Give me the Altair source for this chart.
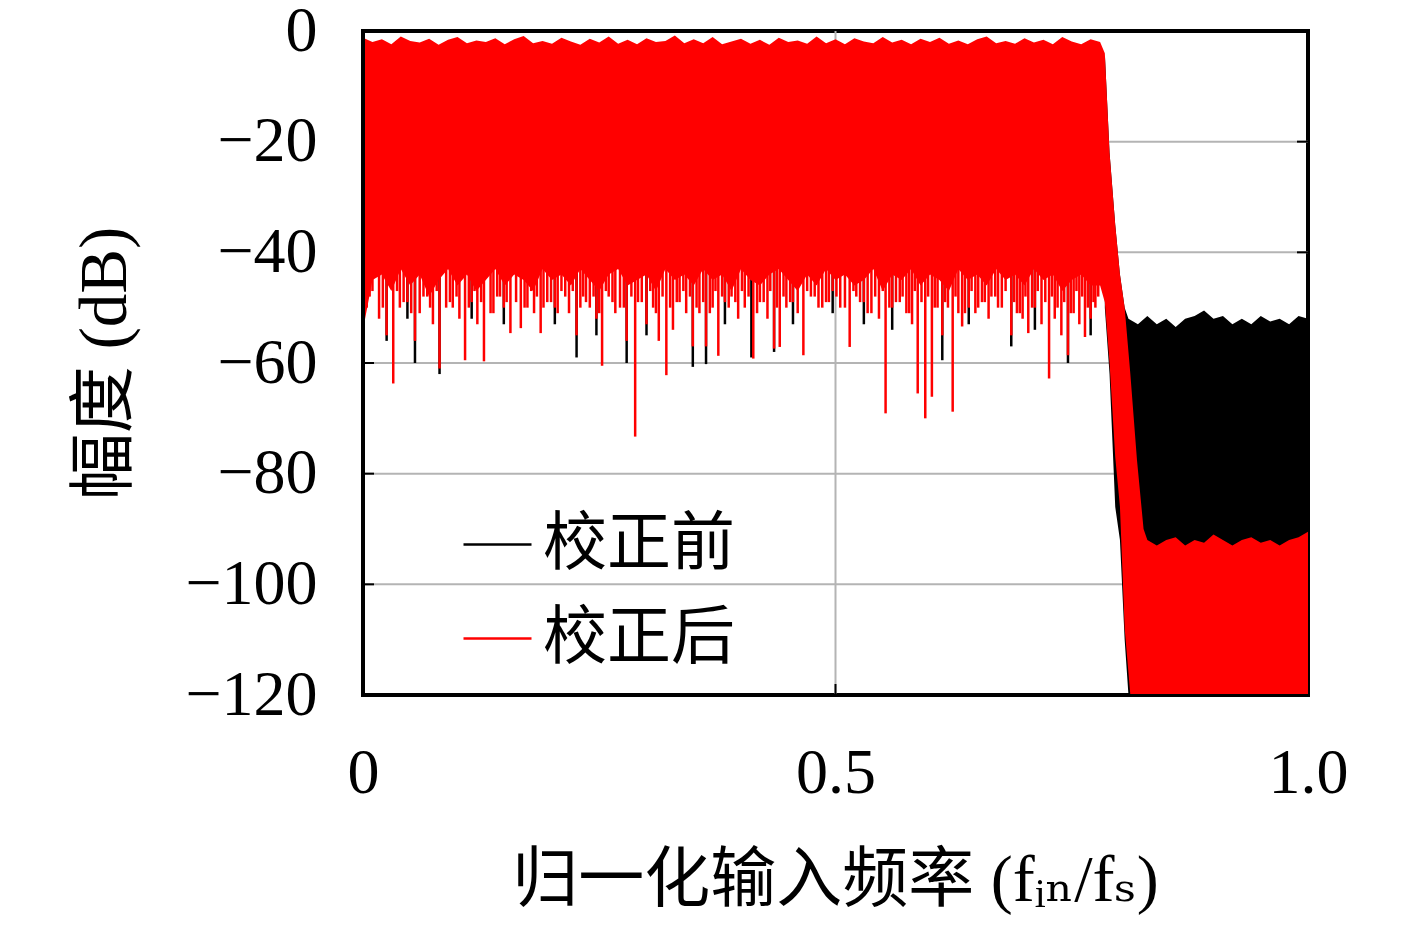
import altair as alt
import pandas as pd

# ---------------- data ----------------
# passband (0 .. 0.78): upper edge and solid lower edge of the noisy band (dB)
PASS_F = [0.00, 0.01, 0.02, 0.03, 0.04, 0.05, 0.06, 0.07, 0.08, 0.09,
          0.10, 0.11, 0.12, 0.13, 0.14, 0.15, 0.16, 0.17, 0.18, 0.19,
          0.20, 0.21, 0.22, 0.23, 0.24, 0.25, 0.26, 0.27, 0.28, 0.29,
          0.30, 0.31, 0.32, 0.33, 0.34, 0.35, 0.36, 0.37, 0.38, 0.39,
          0.40, 0.41, 0.42, 0.43, 0.44, 0.45, 0.46, 0.47, 0.48, 0.49,
          0.50, 0.51, 0.52, 0.53, 0.54, 0.55, 0.56, 0.57, 0.58, 0.59,
          0.60, 0.61, 0.62, 0.63, 0.64, 0.65, 0.66, 0.67, 0.68, 0.69,
          0.70, 0.71, 0.72, 0.73, 0.74, 0.75, 0.76, 0.77, 0.78]
PASS_TOP = [-1.2, -2.0, -1.5, -2.4, -1.0, -1.8, -2.1, -1.4, -2.5, -1.6,
            -1.1, -2.2, -1.7, -2.0, -1.3, -2.4, -1.5, -0.9, -2.2, -1.8,
            -2.3, -1.2, -1.9, -2.5, -1.4, -2.1, -1.0, -2.3, -1.6, -2.4,
            -1.3, -2.0, -1.8, -0.8, -2.2, -1.5, -2.2, -1.1, -2.4, -1.9,
            -1.4, -2.3, -1.6, -2.5, -1.2, -2.0, -1.7, -2.3, -1.0, -2.2,
            -1.5, -2.4, -1.3, -1.9, -2.2, -1.1, -2.1, -1.6, -2.4, -1.4,
            -2.0, -1.2, -2.3, -1.7, -2.4, -1.5, -1.0, -2.2, -1.8, -2.3,
            -1.3, -2.1, -1.6, -2.4, -1.1, -1.9, -2.4, -1.5, -2.0]
PASS_LOW = [-54, -45, -44, -47, -43, -46, -44, -48, -45, -43,
            -46, -44, -47, -45, -43, -46, -44, -45, -47, -43,
            -45, -44, -46, -43, -45, -47, -44, -43, -46, -45,
            -44, -47, -43, -45, -44, -46, -43, -45, -44, -47,
            -43, -45, -46, -44, -43, -45, -47, -44, -46, -43,
            -45, -44, -46, -45, -43, -47, -44, -45, -43, -46,
            -44, -45, -47, -43, -45, -44, -46, -43, -45, -44,
            -46, -43, -45, -44, -47, -45, -44, -46, -46]

# transition band
TR_F = [0.785, 0.790, 0.796, 0.801, 0.806, 0.812, 0.819, 0.826]
TR_RED_TOP = [-4, -22, -35, -44, -50, -62, -77.5, -90]
TR_RED_LOW = [-49, -60, -77, -86, -108, -120, -120, -120]
TR_BLK_F = [0.785, 0.790, 0.796, 0.801, 0.806]
TR_BLK_TOP = [-4, -22, -35, -44, -50]
TR_BLK_LOW = [-50, -62, -86, -92, -110]

# stopband
STOP_BLK_F = [0.81, 0.82, 0.83, 0.84, 0.85, 0.86, 0.87, 0.88, 0.89, 0.90,
              0.91, 0.92, 0.93, 0.94, 0.95, 0.96, 0.97, 0.98, 0.99, 1.00]
STOP_BLK_TOP = [-52, -53, -51.5, -53, -52, -53.5, -52, -51.5, -50.5, -52,
                -51.5, -53, -52, -53, -51.5, -52.5, -52, -53, -51.5, -52]
STOP_RED_F = [0.83, 0.84, 0.85, 0.86, 0.87, 0.88, 0.89, 0.90, 0.91,
              0.92, 0.93, 0.94, 0.95, 0.96, 0.97, 0.98, 0.99, 1.00]
STOP_RED_TOP = [-92, -93, -92, -91.5, -93, -92, -92.5, -91, -92,
                -93, -92, -91.5, -92.5, -92, -93, -92, -91.5, -90.5]

# notches of the corrected (red) spectrum: deep ones ...
DIP_F = [0.004, 0.010, 0.017, 0.025, 0.032, 0.039, 0.047, 0.055, 0.060, 0.068,
         0.074, 0.081, 0.088, 0.095, 0.102, 0.108, 0.115, 0.121, 0.128, 0.135,
         0.142, 0.149, 0.156, 0.162, 0.167, 0.174, 0.181, 0.188, 0.195, 0.203,
         0.210, 0.218, 0.226, 0.233, 0.240, 0.247, 0.253, 0.260, 0.267, 0.272,
         0.279, 0.288, 0.295, 0.300, 0.307, 0.313, 0.321, 0.328, 0.335, 0.342,
         0.349, 0.356, 0.363, 0.370, 0.376, 0.383, 0.390, 0.397, 0.404, 0.413,
         0.420, 0.428, 0.435, 0.441, 0.448, 0.455, 0.466, 0.474, 0.482, 0.490,
         0.497, 0.505, 0.515, 0.522, 0.530, 0.538, 0.546, 0.553, 0.560, 0.568,
         0.575, 0.581, 0.587, 0.595, 0.602, 0.608, 0.613, 0.619, 0.624, 0.630,
         0.634, 0.641, 0.648, 0.655, 0.662, 0.669, 0.676, 0.686, 0.692, 0.698,
         0.704, 0.711, 0.718, 0.726, 0.732, 0.739, 0.746, 0.752, 0.758, 0.764,
         0.770, 0.775]
DIP_RED = [-50, -47, -52, -55, -63.7, -50, -49, -56, -51, -48,
           -53, -61, -50, -50, -52, -59.5, -49, -53, -59.7, -51,
           -48, -50, -54.6, -49, -53.7, -50, -51, -54.6, -49, -50,
           -47, -51, -55, -48, -50, -52, -60.5, -48, -51, -50,
           -56, -73.3, -49, -53, -50, -56, -62.2, -54, -49, -51,
           -57, -51, -57, -50, -58.7, -49, -48, -52, -50, -59.2,
           -49, -52, -57.4, -57.1, -50, -49, -58.6, -48, -50, -49,
           -47, -50, -57.1, -48, -49, -51, -52, -69.1, -50, -49,
           -51, -53, -65.5, -70, -66.1, -50, -55, -50, -68.8, -51,
           -53.4, -50, -51, -49, -52, -48, -50, -55, -51, -52,
           -54.6, -50, -53, -62.8, -52, -55, -58.6, -51, -53, -55.3,
           -52, -50]
# ... and the dense shallow ones in between
SDIP_F = [0.007, 0.021, 0.036, 0.043, 0.051, 0.064, 0.071, 0.078, 0.092, 0.099,
          0.112, 0.118, 0.125, 0.138, 0.145, 0.152, 0.171, 0.178, 0.184, 0.191,
          0.199, 0.206, 0.214, 0.222, 0.230, 0.236, 0.244, 0.250, 0.257, 0.264,
          0.276, 0.284, 0.291, 0.304, 0.310, 0.317, 0.325, 0.332, 0.339, 0.346,
          0.353, 0.360, 0.367, 0.373, 0.380, 0.387, 0.394, 0.401, 0.408, 0.417,
          0.424, 0.431, 0.438, 0.445, 0.452, 0.460, 0.470, 0.478, 0.486, 0.493,
          0.501, 0.510, 0.519, 0.526, 0.534, 0.542, 0.550, 0.557, 0.564, 0.571,
          0.578, 0.584, 0.591, 0.598, 0.605, 0.616, 0.627, 0.637, 0.644, 0.651,
          0.658, 0.665, 0.672, 0.680, 0.689, 0.695, 0.701, 0.708, 0.714, 0.722,
          0.729, 0.735, 0.742, 0.749, 0.755, 0.761, 0.767, 0.773, 0.778]
SDIP_RED = [-48, -50, -47, -49, -51, -48, -50, -47, -49, -48,
            -50, -47, -49, -51, -48, -49, -50, -47, -48, -50,
            -49, -51, -48, -47, -50, -49, -48, -51, -47, -49,
            -50, -48, -49, -47, -51, -48, -50, -49, -47, -48,
            -50, -49, -51, -47, -48, -50, -49, -47, -48, -51,
            -49, -47, -50, -48, -49, -51, -47, -48, -50, -49,
            -48, -50, -47, -49, -51, -48, -47, -50, -49, -48,
            -51, -47, -49, -48, -50, -49, -48, -51, -47, -50,
            -49, -48, -50, -47, -49, -51, -48, -50, -47, -49,
            -48, -50, -49, -51, -47, -48, -50, -49, -48]
# places where the uncorrected (black) notch reaches below the red one
BDIP_F = [0.025, 0.047, 0.055, 0.081, 0.115, 0.149, 0.203, 0.226, 0.247, 0.279,
          0.300, 0.349, 0.363, 0.383, 0.411, 0.435, 0.455, 0.497, 0.530, 0.560,
          0.613, 0.641, 0.686, 0.711, 0.746, 0.770]
BDIP_DB = [-56, -52, -60, -62, -52, -53, -53, -59, -55, -60,
           -55, -60.7, -60.2, -53, -59, -58, -53, -51, -53, -54,
           -59.5, -53, -57, -54, -60, -55]

SERIES = ["校正前", "校正后"]
COLORS = ["#000000", "#ff0000"]
Y_TICKS = [0, -20, -40, -60, -80, -100, -120]
X_TICKS = [0, 0.5, 1.0]
Y_GRID = [-20, -40, -60, -80, -100]
X_GRID = [0.5]

# ---------------- tables ----------------
red = pd.DataFrame({
    "f": PASS_F + TR_F + STOP_RED_F,
    "top": PASS_TOP + TR_RED_TOP + STOP_RED_TOP,
    "low": PASS_LOW + TR_RED_LOW + [-120] * len(STOP_RED_F),
})
black = pd.DataFrame({
    "f": TR_BLK_F + STOP_BLK_F,
    "top": TR_BLK_TOP + STOP_BLK_TOP,
    "low": TR_BLK_LOW + [-120] * len(STOP_BLK_F),
})
red_dips = pd.DataFrame({"f": DIP_F + SDIP_F, "db": DIP_RED + SDIP_RED, "s": SERIES[1]})
blk_dips = pd.DataFrame({"f": BDIP_F, "db": BDIP_DB, "s": SERIES[0]})
ygrid = pd.DataFrame({"v": Y_GRID})
xgrid = pd.DataFrame({"v": X_GRID})

SERIF = "Liberation Serif"
MIXED = "Liberation Serif, DejaVu Serif, Noto Sans CJK SC"
GRID = "#b4b4b4"

xscale = alt.Scale(domain=[0, 1], nice=False, zero=False)
yscale = alt.Scale(domain=[-120, 0], nice=False)
cscale = alt.Scale(domain=SERIES, range=COLORS)

xaxis = alt.Axis(values=X_TICKS, labelExpr="datum.value == 0 ? '0' : format(datum.value, '.1f')",
                 labelFont=SERIF, labelFontSize=64, labelPadding=46, labelColor="black",
                 labelFlush=False, ticks=False, domainColor="black", domainWidth=3,
                 grid=False, zindex=1,
                 title="归一化输入频率 (fᵢₙ/fₛ)", titleFont=MIXED, titleFontSize=66,
                 titleFontWeight="normal", titleColor="black",
                 titleX=472, titleY=185, titleAlign="center", titleBaseline="middle")
yaxis = alt.Axis(values=Y_TICKS, labelFont=SERIF, labelFontSize=64, labelPadding=46,
                 labelColor="black", labelFlush=False, ticks=False, domainColor="black",
                 domainWidth=3, grid=False, zindex=1,
                 title="幅度 (dB)", titleFont=MIXED, titleFontSize=67,
                 titleFontWeight="normal", titleColor="black", titleAngle=270,
                 titleX=-258, titleY=332, titleAlign="center", titleBaseline="middle")

legend = alt.Legend(orient="none", legendX=99, legendY=478, symbolType="stroke",
                    symbolSize=4624, symbolStrokeWidth=2.5, labelFont="Noto Sans CJK SC",
                    labelFontSize=64, labelColor="black", labelOffset=10, rowPadding=26,
                    padding=0, title=None, labelLimit=400)

# grid lines (under the data)
ygrid_l = alt.Chart(ygrid).mark_rule(color=GRID, strokeWidth=2).encode(
    y=alt.Y("v:Q", scale=yscale, axis=yaxis))
xgrid_l = alt.Chart(xgrid).mark_rule(color=GRID, strokeWidth=2).encode(
    x=alt.X("v:Q", scale=xscale, axis=xaxis))
# short inward ticks on the frame (under the data, as in the reference)
ytick_left = alt.Chart(ygrid).mark_rule(color="black", strokeWidth=2).encode(
    y="v:Q", x=alt.value(0), x2=alt.value(11))
ytick_right = alt.Chart(ygrid).mark_rule(color="black", strokeWidth=2).encode(
    y="v:Q", x=alt.value(934), x2=alt.value(945))
xtick_bottom = alt.Chart(xgrid).mark_rule(color="black", strokeWidth=2).encode(
    x="v:Q", y=alt.value(653), y2=alt.value(664))

blk_area = alt.Chart(black).mark_area(color="#000000", clip=True, interpolate="linear").encode(
    x=alt.X("f:Q"), y=alt.Y("top:Q"), y2="low:Q")

blk_rule = alt.Chart(blk_dips).mark_rule(strokeWidth=2.5, clip=True).encode(
    x=alt.X("f:Q"),
    y=alt.Y("db:Q"),
    y2=alt.Y2(datum=-40),
    color=alt.Color("s:N", scale=cscale, legend=legend))

red_area = alt.Chart(red).mark_area(color="#ff0000", clip=True, interpolate="linear").encode(
    x=alt.X("f:Q"), y=alt.Y("top:Q"), y2="low:Q")

red_rule = alt.Chart(red_dips).mark_rule(strokeWidth=2.5, clip=True).encode(
    x=alt.X("f:Q"),
    y=alt.Y("db:Q"),
    y2=alt.Y2(datum=-40),
    color=alt.Color("s:N", scale=cscale, legend=legend))

chart = alt.layer(ygrid_l, xgrid_l, ytick_left, ytick_right, xtick_bottom,
                  blk_area, blk_rule, red_area, red_rule).properties(
    width=945, height=664,
    autosize=alt.AutoSizeParams(type="none"),
    padding={"left": 355, "top": 23, "right": 100, "bottom": 220},
    background="white",
).configure_view(stroke="black", strokeWidth=4)

chart.save("out.html", embed_options={"renderer": "svg", "actions": False})
